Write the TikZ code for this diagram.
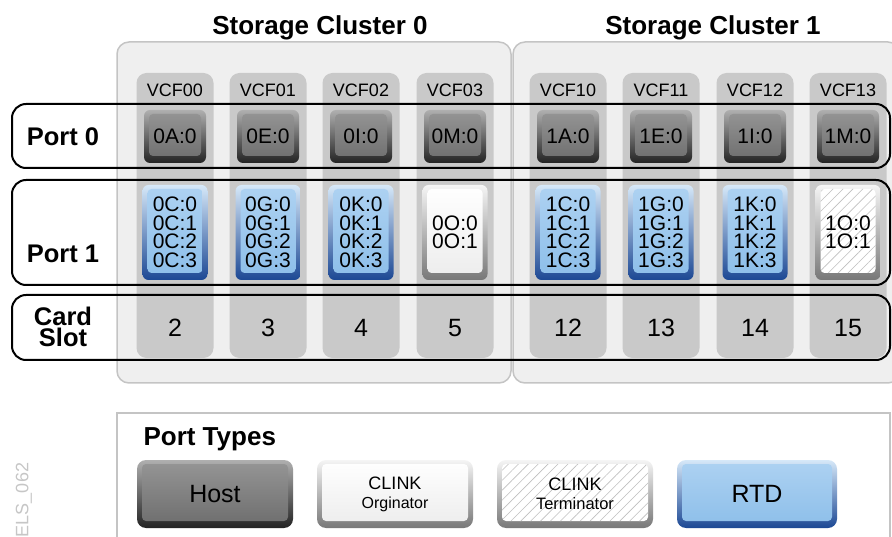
\documentclass[tikz,border=0pt]{standalone}
\usepackage{fontspec}
\setmainfont{Liberation Sans}
\usepackage{tikz}
\usetikzlibrary{patterns.meta}
\definecolor{clusterbg}{RGB}{239,239,239}
\definecolor{clusterline}{RGB}{196,196,196}
\definecolor{stripgray}{RGB}{201,201,201}
\definecolor{hostrimtop}{RGB}{175,175,175}
\definecolor{hostrimbot}{RGB}{35,35,35}
\definecolor{hostfacetop}{RGB}{150,150,150}
\definecolor{hostfacebot}{RGB}{108,108,108}
\definecolor{rtdrimtop}{RGB}{214,232,248}
\definecolor{rtdrimbot}{RGB}{28,72,148}
\definecolor{rtdfacetop}{RGB}{174,210,242}
\definecolor{rtdfacebot}{RGB}{140,190,233}
\definecolor{clinkrimtop}{RGB}{245,245,245}
\definecolor{clinkrimbot}{RGB}{120,120,120}
\definecolor{clinkface}{RGB}{236,236,236}

\tikzset{
  port/.style={rounded corners=6pt, inner sep=0pt, align=center,
    path picture={\path[rounded corners=4pt, #1]
      ([shift={(5pt,-4pt)}]path picture bounding box.north west) rectangle
      ([shift={(-5pt,7pt)}]path picture bounding box.south east);}},
  host/.style={port={top color=hostfacetop, bottom color=hostfacebot},
    top color=hostrimtop, bottom color=hostrimbot},
  rtd/.style={port={top color=rtdfacetop, bottom color=rtdfacebot},
    top color=rtdrimtop, bottom color=rtdrimbot},
  clinkorig/.style={port={top color=white, bottom color=clinkface},
    top color=clinkrimtop, bottom color=clinkrimbot},
  clinkterm/.style={port={fill=white, postaction={pattern={Lines[angle=45,distance=7pt,line width=0.6pt]}, pattern color=gray!50}},
    top color=clinkrimtop, bottom color=clinkrimbot},
  porta/.style={minimum width=62pt, minimum height=53pt, font=\fontsize{21}{24}\selectfont},
  portb/.style={minimum width=65pt, minimum height=95pt, font=\fontsize{21}{18.5}\selectfont},
  keybox/.style={minimum width=156pt, minimum height=68pt, rounded corners=9pt},
  cluster/.style={fill=clusterbg, draw=clusterline, line width=1.5pt, rounded corners=12pt, inner sep=0pt},
  strip/.style={fill=stripgray, rounded corners=10pt, minimum width=77pt, minimum height=285pt, inner sep=0pt},
  rowbox/.style={draw=black, line width=2pt, rounded corners=14pt, minimum width=878pt, inner sep=0pt},
  title/.style={font=\bfseries\fontsize{26}{30}\selectfont, anchor=base},
  rowlabel/.style={font=\bfseries\fontsize{25.5}{21}\selectfont, align=center},
  vcf/.style={font=\fontsize{18}{20}\selectfont, anchor=base},
  slot/.style={font=\fontsize{25}{28}\selectfont}
}

\begin{document}
\begin{tikzpicture}[x=1pt,y=-1pt]
\useasboundingbox (0,0) rectangle (892,537);

% clusters
\node[cluster, minimum width=394pt, minimum height=341pt] (cl0) at (314,212.5) {};
\node[cluster, minimum width=387pt, minimum height=341pt] (cl1) at (706.5,212.5) {};
\node[title] (t0) at (320,35) {Storage Cluster 0};
\node[title] (t1) at (713,35) {Storage Cluster 1};

% card columns
\foreach \k/\i/\x/\ltr/\slot in {0/0/175/A/2, 0/1/268/E/3, 0/2/361/I/4, 0/3/455/M/5,
                                 1/0/568/A/12, 1/1/661/E/13, 1/2/755/I/14, 1/3/848/M/15} {
  \node[strip] (s\k\i) at (\x,215.5) {};
  \node[vcf] (v\k\i) at (\x,97) {VCF\k\i};
  \node[host, porta] (a\k\i) at (\x,136.5) {\k\ltr:0};
  \node[slot] (n\k\i) at (\x,328) {\slot};
}

% port 1
\foreach \k/\i/\x/\ltr in {0/0/175/C, 0/1/268/G, 0/2/361/K, 1/0/568/C, 1/1/661/G, 1/2/755/K}
  \node[rtd, portb] (b\k\i) at (\x,232.5) {\k\ltr:0\\\k\ltr:1\\\k\ltr:2\\\k\ltr:3};
\node[clinkorig, portb] (b03) at (455,232.5) {0O:0\\0O:1};
\node[clinkterm, portb] (b13) at (848,232.5) {1O:0\\1O:1};

% rows
\node[rowbox, minimum height=64pt] (row0) at (451,136) {};
\node[rowbox, minimum height=105pt] (row1) at (451,232.5) {};
\node[rowbox, minimum height=65pt] (row2) at (451,327.5) {};
\node[rowlabel, anchor=base] (l0) at (63,146) {Port 0};
\node[rowlabel, anchor=base] (l1) at (63,263) {Port 1};
\node[rowlabel] (l2) at (63,327) {Card\\Slot};

% legend
\node[draw=clusterline, line width=1.5pt, fill=white, minimum width=773pt, minimum height=132pt, inner sep=0pt] (legend) at (503.5,479) {};
\node[title, anchor=base west] (lt) at (140,445) {Port Types};
\node[host, keybox, font=\fontsize{25}{28}\selectfont] (khost) at (215,494) {Host};
\node[clinkorig, keybox, font=\fontsize{18}{19}\selectfont] (korig) at (395,494) {CLINK\\{\fontsize{16}{19}\selectfont Orginator}};
\node[clinkterm, keybox, font=\fontsize{18}{19}\selectfont] (kterm) at (575,494) {CLINK\\{\fontsize{16.5}{19}\selectfont Terminator}};
\node[rtd, keybox, minimum width=160pt, font=\fontsize{25}{28}\selectfont] (krtd) at (757,494) {RTD};

\node[rotate=90, text=gray!45, font=\fontsize{18}{20}\selectfont] (els) at (24,500) {ELS\_062};
\end{tikzpicture}
\end{document}
